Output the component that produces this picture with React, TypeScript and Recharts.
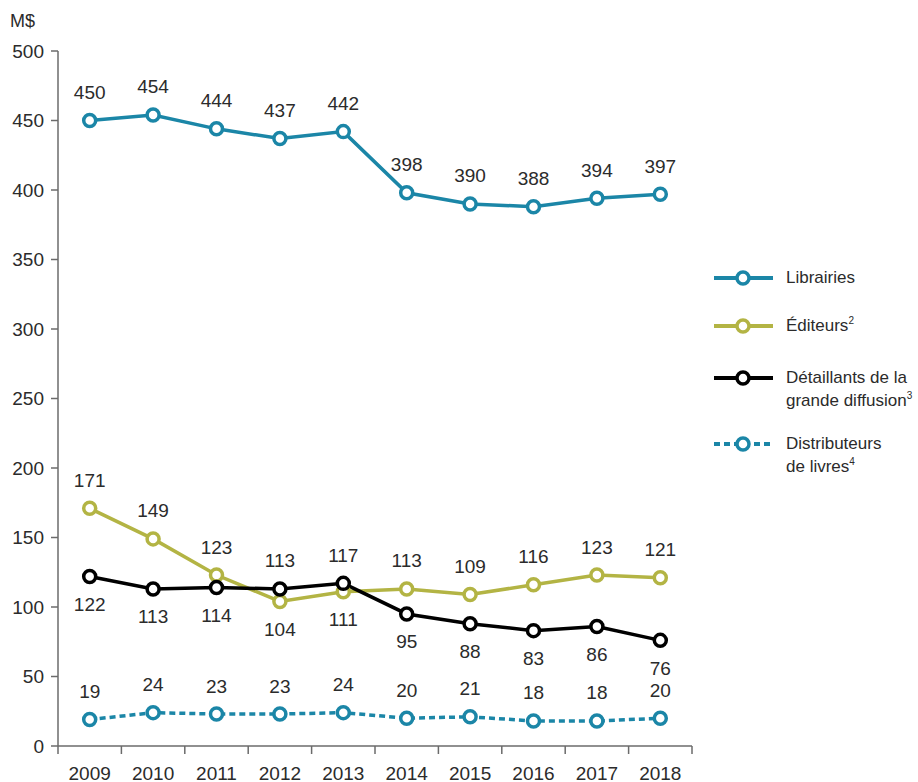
import React from 'react';
import {
  LineChart,
  Line,
  XAxis,
  YAxis,
  LabelList,
} from 'recharts';

const years = ['2009', '2010', '2011', '2012', '2013', '2014', '2015', '2016', '2017', '2018'];
const librairies = [450, 454, 444, 437, 442, 398, 390, 388, 394, 397];
const editeurs = [171, 149, 123, 104, 111, 113, 109, 116, 123, 121];
const detaillants = [122, 113, 114, 113, 117, 95, 88, 83, 86, 76];
const distributeurs = [19, 24, 23, 23, 24, 20, 21, 18, 18, 20];
const yTicks = [0, 50, 100, 150, 200, 250, 300, 350, 400, 450, 500];

const data = years.map((year, i) => ({
  year,
  librairies: librairies[i],
  editeurs: editeurs[i],
  detaillants: detaillants[i],
  distributeurs: distributeurs[i],
}));

const BLUE = '#1b86a7';
const OLIVE = '#b3b444';
const BLACK = '#000000';
const TEXT = '#2b2b2b';
const AXIS = '#6b6b6b';
const FONT = '"Liberation Sans", Arial, sans-serif';

const WIDTH = 918;
const HEIGHT = 782;
const LEFT = 58;
const RIGHT = 692;
const BAND = (RIGHT - LEFT) / years.length;

// label above or below the point, depending on the callback
const makeLabel = (above: (i: number) => boolean) => (props: any) => {
  const { x, y, value, index } = props;
  const up = above(index);
  return (
    <text
      x={x}
      y={up ? y - 28 : y + 28}
      textAnchor="middle"
      dominantBaseline="central"
      fill={TEXT}
      fontSize={19}
      fontFamily={FONT}
    >
      {value}
    </text>
  );
};

const XTick = (props: any) => {
  const { x, y, payload, index } = props;
  const left = x - BAND / 2;
  return (
    <g>
      <line x1={left} y1={y} x2={left} y2={y + 8} stroke={AXIS} strokeWidth={1.5} />
      {index === years.length - 1 && (
        <line x1={x + BAND / 2} y1={y} x2={x + BAND / 2} y2={y + 8} stroke={AXIS} strokeWidth={1.5} />
      )}
      <text x={x} y={y + 27} textAnchor="middle" dominantBaseline="central" fill={TEXT} fontSize={19} fontFamily={FONT}>
        {payload.value}
      </text>
    </g>
  );
};

const LegendIcon = ({ color, dashed }: { color: string; dashed?: boolean }) => (
  <svg width={62} height={20} style={{ position: 'absolute', left: 0, top: -10 }}>
    <line x1={1} y1={10} x2={60} y2={10} stroke={color} strokeWidth={4} strokeDasharray={dashed ? '6 4' : undefined} />
    <circle cx={30} cy={10} r={6} fill="#fff" stroke={color} strokeWidth={3.5} />
  </svg>
);

const sup = (n: string) => <sup style={{ fontSize: 10, lineHeight: 0 }}>{n}</sup>;

const legendItems = [
  { color: BLUE, top: 278, lines: [<>Librairies</>] },
  { color: OLIVE, top: 326, lines: [<>Éditeurs{sup('2')}</>] },
  { color: BLACK, top: 378, lines: [<>Détaillants de la</>, <>grande diffusion{sup('3')}</>] },
  { color: BLUE, top: 444, dashed: true, lines: [<>Distributeurs</>, <>de livres{sup('4')}</>] },
];

const ChartLegend = () => (
  <div style={{ position: 'absolute', left: 713, top: 0, fontFamily: FONT, color: TEXT, fontSize: 17 }}>
    {legendItems.map((item, i) => (
      <div key={i} style={{ position: 'absolute', left: 0, top: item.top }}>
        <LegendIcon color={item.color} dashed={item.dashed} />
        {item.lines.map((ln, j) => (
          <div
            key={j}
            style={{ position: 'absolute', left: 73, top: -11 + j * 23, whiteSpace: 'nowrap', lineHeight: '22px' }}
          >
            {ln}
          </div>
        ))}
      </div>
    ))}
  </div>
);

export default function App() {
  return (
    <div style={{ position: 'absolute', left: 0, top: 0, width: WIDTH, height: HEIGHT, background: '#fff' }}>
      <div style={{ position: 'absolute', left: 10, top: 11, fontFamily: FONT, fontSize: 18, color: TEXT }}>M$</div>
      <LineChart
        width={WIDTH}
        height={HEIGHT}
        data={data}
        margin={{ top: 51, right: WIDTH - RIGHT, left: 0, bottom: 0 }}
      >
        <XAxis
          dataKey="year"
          height={36}
          padding={{ left: BAND / 2, right: BAND / 2 }}
          tickSize={0}
          tickMargin={0}
          tickLine={false}
          axisLine={{ stroke: AXIS, strokeWidth: 1.5 }}
          tick={<XTick />}
          interval={0}
        />
        <YAxis
          width={LEFT}
          domain={[0, 500]}
          ticks={yTicks}
          interval={0}
          tickSize={7}
          tickMargin={7}
          axisLine={{ stroke: AXIS, strokeWidth: 1.5 }}
          tickLine={{ stroke: AXIS, strokeWidth: 1.5 }}
          tick={{ fill: TEXT, fontSize: 19, fontFamily: FONT }}
        />
        <Line
          dataKey="librairies"
          stroke={BLUE}
          strokeWidth={3.5}
          dot={{ r: 6, fill: '#fff', stroke: BLUE, strokeWidth: 3.5 }}
          activeDot={false}
          isAnimationActive={false}
        >
          <LabelList dataKey="librairies" content={makeLabel(() => true)} />
        </Line>
        <Line
          dataKey="editeurs"
          stroke={OLIVE}
          strokeWidth={3.5}
          dot={{ r: 6, fill: '#fff', stroke: OLIVE, strokeWidth: 3.5 }}
          activeDot={false}
          isAnimationActive={false}
        >
          <LabelList dataKey="editeurs" content={makeLabel((i) => editeurs[i] >= detaillants[i])} />
        </Line>
        <Line
          dataKey="detaillants"
          stroke={BLACK}
          strokeWidth={3.5}
          dot={{ r: 6, fill: '#fff', stroke: BLACK, strokeWidth: 3.5 }}
          activeDot={false}
          isAnimationActive={false}
        >
          <LabelList dataKey="detaillants" content={makeLabel((i) => detaillants[i] > editeurs[i])} />
        </Line>
        <Line
          dataKey="distributeurs"
          stroke={BLUE}
          strokeWidth={3.5}
          strokeDasharray="6 4"
          dot={{ r: 6, fill: '#fff', stroke: BLUE, strokeWidth: 3.5, strokeDasharray: '0' }}
          activeDot={false}
          isAnimationActive={false}
        >
          <LabelList dataKey="distributeurs" content={makeLabel(() => true)} />
        </Line>
      </LineChart>
      <ChartLegend />
    </div>
  );
}
